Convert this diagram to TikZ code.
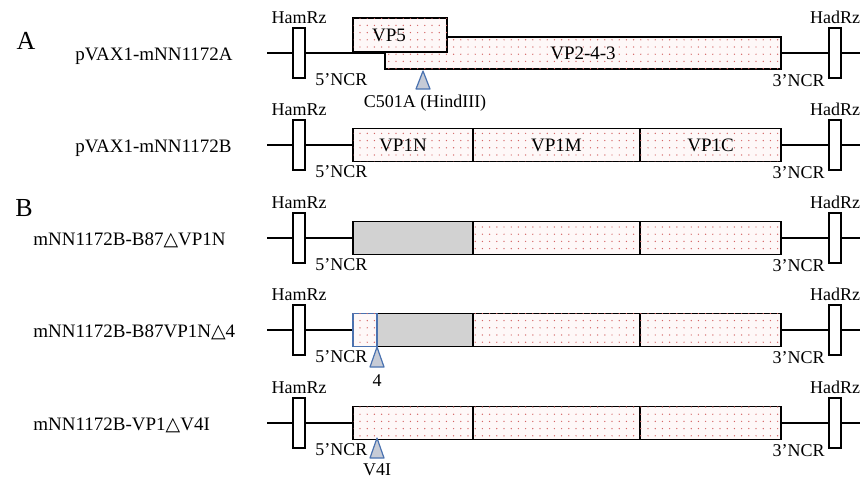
\documentclass[tikz,border=0pt]{standalone}
\usepackage{fontspec}
\setmainfont{Liberation Serif}
\newfontfamily\symfont{DejaVu Sans}
\usetikzlibrary{positioning, patterns.meta}
\definecolor{dotred}{RGB}{200,60,60}
\definecolor{dotbg}{RGB}{254,248,248}
\definecolor{mutblue}{RGB}{74,114,176}
\definecolor{mutfill}{RGB}{198,203,214}
\newcommand{\dtri}{{\symfont\char"25B3}}

\begin{document}
\begin{tikzpicture}[x=0.5pt, y=-0.5pt,
    bb/.style={line width=0.6pt},
    rz/.style={draw, fill=white, line width=0.6pt, minimum width=6pt,
               minimum height=25pt, inner sep=0pt},
    seg/.style={draw, line width=0.8pt, fill=dotbg,
                postaction={pattern={Dots[distance=3.6pt, radius=0.35pt]},
                            pattern color=dotred!80},
                minimum height=16.5pt, inner sep=0pt,
                font=\fontsize{9.5}{11}\selectfont},
    del/.style={draw, line width=0.8pt, fill=gray!35,
                minimum height=16.5pt, inner sep=0pt},
    mut/.style={draw=mutblue, fill=mutfill, line width=0.6pt, line join=round},
    lbl/.style={font=\fontsize{9}{10}\selectfont, inner sep=1pt},
    rowname/.style={font=\fontsize{9.5}{11}\selectfont, anchor=base west,
                    inner sep=0pt},
    part/.style={font=\fontsize{13}{14}\selectfont, inner sep=0pt}
  ]
  \useasboundingbox (0,0) rectangle (860,479);

  \foreach \y [count=\i] in {53,145,238,330,423} {
    \coordinate (s\i) at (267,\y);
    \coordinate (e\i) at (860,\y);
    \draw[bb] (s\i) -- (e\i);
    \node[rz] (ham\i) at (299,\y) {};
    \node[rz] (had\i) at (835,\y) {};
    \node[lbl, above=0.5pt of ham\i] (hamlbl\i) {HamRz};
    \node[lbl, above=0.5pt of had\i] (hadlbl\i) {HadRz};
    \node[lbl, anchor=west] (ncr5\i) at (313,\y+27) {5'NCR};
    \node[lbl, anchor=east] (ncr3\i) at (827,\y+28) {3'NCR};
  }

  \node[part] (pa) at (26,41) {A};
  \node[part] (pb) at (24,208) {B};

  \node[rowname] (n1) at (75,60) {pVAX1-mNN1172A};
  \node[rowname] (n2) at (75,152) {pVAX1-mNN1172B};
  \node[rowname] (n3) at (33,245) {mNN1172B-B87\dtri VP1N};
  \node[rowname] (n4) at (33,337) {mNN1172B-B87VP1N\dtri 4};
  \node[rowname] (n5) at (33,430) {mNN1172B-VP1\dtri V4I};

  \node[seg, minimum width=198pt, minimum height=16pt] (vp243) at (583,53) {VP2-4-3};
  \node[seg, minimum width=47pt, minimum height=17pt] (vp5) at (400,35) {};
  \node[font=\fontsize{9.5}{11}\selectfont, inner sep=0pt] (vp5lbl) at (389,35) {VP5};

  \node[seg, minimum width=60pt] (vp1n) at (413,145) {};
  \node[font=\fontsize{9.5}{11}\selectfont, inner sep=0pt] (vp1nlbl) at (403,145) {VP1N};
  \node[seg, minimum width=83.5pt] (vp1m) at (556.5,145) {VP1M};
  \node[seg, minimum width=70.5pt] (vp1c) at (710.5,145) {VP1C};

  \node[del, minimum width=60pt] (d3) at (413,238) {};
  \node[seg, minimum width=83.5pt] (m3) at (556.5,238) {};
  \node[seg, minimum width=70.5pt] (c3) at (710.5,238) {};

  \node[del, minimum width=48pt] (d4) at (425,330) {};
  \node[seg, draw=mutblue, minimum width=12pt] (k4) at (365,330) {};
  \node[seg, minimum width=83.5pt] (m4) at (556.5,330) {};
  \node[seg, minimum width=70.5pt] (c4) at (710.5,330) {};

  \node[seg, minimum width=60pt] (n5seg) at (413,423) {};
  \node[seg, minimum width=83.5pt] (m5) at (556.5,423) {};
  \node[seg, minimum width=70.5pt] (c5) at (710.5,423) {};

  \coordinate (mut1) at (423,71);
  \draw[mut] (mut1) -- ++(-7,18) -- ++(14,0) -- cycle;
  \node[lbl] (mutlbl1) at (425,103) {C501A (HindIII)};

  \coordinate (mut2) at (377,347);
  \draw[mut] (mut2) -- ++(-7,20) -- ++(14,0) -- cycle;
  \node[lbl] (mutlbl2) at (377,381) {4};

  \coordinate (mut3) at (377,438);
  \draw[mut] (mut3) -- ++(-7,20) -- ++(14,0) -- cycle;
  \node[lbl] (mutlbl3) at (377,470) {V4I};
\end{tikzpicture}
\end{document}
